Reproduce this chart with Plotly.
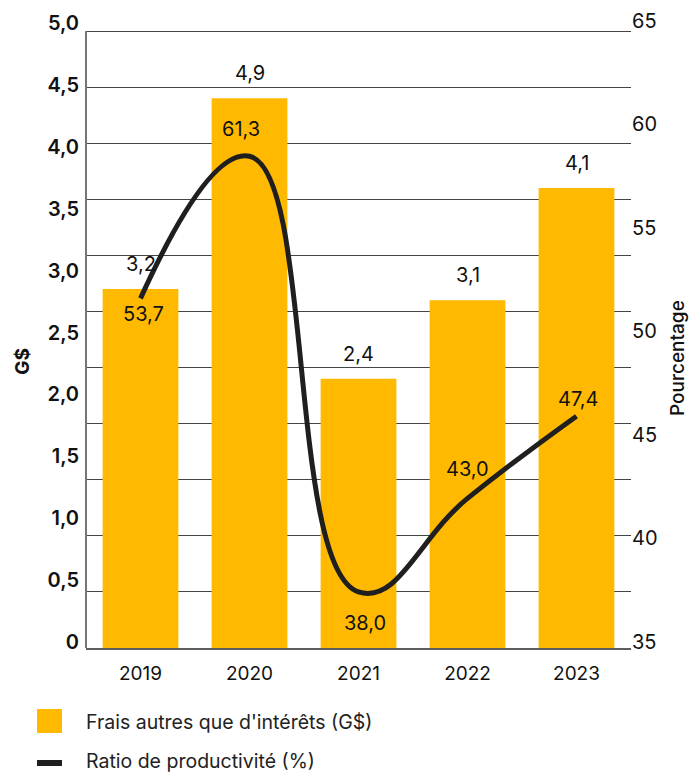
import plotly.graph_objects as go

# ---------------- data ----------------
years = ["2019", "2020", "2021", "2022", "2023"]
expenses = [3.2, 4.9, 2.4, 3.1, 4.1]          # G$
ratio = [53.7, 61.3, 38.0, 43.0, 47.4]        # %

left_tick_vals = [0, 0.5, 1.0, 1.5, 2.0, 2.5, 3.0, 3.5, 4.0, 4.5, 5.0]
left_tick_text = ["0", "0,5", "1,0", "1,5", "2,0", "2,5", "3,0", "3,5", "4,0", "4,5", "5,0"]
right_tick_vals = [35, 40, 45, 50, 55, 60, 65]
right_tick_text = ["35", "40", "45", "50", "55", "60", "65"]

bar_name = "Frais autres que d'intérêts (G$)"
line_name = "Ratio de productivité (%)"
left_title = "G$"
right_title = "Pourcentage"

# ---------------- styling / geometry (pixels) ----------------
W, H = 689, 772
ML, MR, MT, MB = 86, 58, 18, 124
PW = W - ML - MR
PH = H - MT - MB
Y_BOTTOM = H - MB          # pixel row of the zero line
GRID_TOP = 31              # pixel row of the top grid line
YELLOW = "#FFB900"
LINE = "#1f1f1f"
FONT = "Inter"
TXT = "#111111"


def px(p):
    return (p - ML) / PW


def py(p):
    return (Y_BOTTOM - p) / PH


def axis_range(v_lo, p_lo, v_hi, p_hi):
    """range of an axis spanning the full plot height, given two value->pixel anchors"""
    k = (p_lo - p_hi) / (v_hi - v_lo)
    return [v_lo - (Y_BOTTOM - p_lo) / k, v_hi + (p_hi - MT) / k]


def fr(v):
    return f"{v:.1f}".replace(".", ",")


bar_range = axis_range(0, Y_BOTTOM, 5.5, GRID_TOP)
line_range = axis_range(35, Y_BOTTOM, 68, GRID_TOP)
left_lab_range = axis_range(0, 641.7, 5, 23.3)
right_lab_range = axis_range(35, 642, 65, 20.8)

fig = go.Figure()
fig.add_trace(go.Bar(x=years, y=expenses, name=bar_name, marker=dict(color=YELLOW, line=dict(width=0)),
                     yaxis="y", showlegend=False, hoverinfo="skip"))
fig.add_trace(go.Scatter(x=years, y=ratio, name=line_name, mode="lines",
                         line=dict(color=LINE, width=5, shape="spline", smoothing=1.3),
                         yaxis="y2", showlegend=False, hoverinfo="skip"))
# empty carriers so that the tick-label axes get drawn
fig.add_trace(go.Scatter(x=years, y=[None] * len(years), yaxis="y3", mode="lines",
                         showlegend=False, hoverinfo="skip"))
fig.add_trace(go.Scatter(x=years, y=[None] * len(years), yaxis="y4", mode="lines",
                         showlegend=False, hoverinfo="skip"))

annotations = []
for i, v in enumerate(expenses):
    annotations.append(dict(x=i, y=v, xref="x", yref="y", text=fr(v), showarrow=False,
                            xanchor="center", yanchor="middle", yshift=25,
                            font=dict(family=FONT, size=20, color=TXT)))
line_shifts = [(3, -16), (-9, 27), (6, -31), (0, 29), (1, 17)]
for i, (v, (dx, dy)) in enumerate(zip(ratio, line_shifts)):
    annotations.append(dict(x=i, y=v, xref="x", yref="y2", text=fr(v), showarrow=False,
                            xanchor="center", yanchor="middle", xshift=dx, yshift=dy,
                            font=dict(family=FONT, size=20, color=TXT)))
annotations.append(dict(x=px(23), y=py(361.7), xref="paper", yref="paper", text=left_title, showarrow=False,
                        xanchor="center", yanchor="middle", textangle=-90,
                        font=dict(family=FONT, size=19, color=TXT, weight=700)))
annotations.append(dict(x=px(677), y=py(358), xref="paper", yref="paper", text=right_title, showarrow=False,
                        xanchor="center", yanchor="middle", textangle=-90,
                        font=dict(family=FONT, size=19, color=TXT, weight=500)))
annotations.append(dict(x=px(84), y=py(721.7), xref="paper", yref="paper", text=bar_name, showarrow=False,
                        xanchor="left", yanchor="middle", font=dict(family=FONT, size=19.5, color="#222")))
annotations.append(dict(x=px(84), y=py(761), xref="paper", yref="paper", text=line_name, showarrow=False,
                        xanchor="left", yanchor="middle", font=dict(family=FONT, size=19.5, color="#222")))

shapes = [
    dict(type="line", xref="paper", yref="paper", x0=0, x1=0, y0=0, y1=py(GRID_TOP),
         line=dict(color="#777777", width=2)),
    dict(type="rect", xref="paper", yref="paper", x0=px(37), x1=px(62), y0=py(733), y1=py(709),
         fillcolor=YELLOW, line=dict(width=0)),
    dict(type="rect", xref="paper", yref="paper", x0=px(37), x1=px(62), y0=py(766), y1=py(760),
         fillcolor=LINE, line=dict(width=0)),
]

fig.update_layout(
    template="none",
    width=W, height=H, autosize=False,
    margin=dict(l=ML, r=MR, t=MT, b=MB, pad=0),
    paper_bgcolor="white", plot_bgcolor="white",
    bargap=0.305,
    showlegend=False,
    font=dict(family=FONT, color=TXT),
    xaxis=dict(domain=[0, 1], type="category", categoryorder="array", categoryarray=years,
               range=[-0.5, len(years) - 0.5], autorange=False,
               showline=True, linecolor="rgba(40,40,40,0.75)", linewidth=2, ticks="",
               ticklabelstandoff=7,
               showgrid=False, zeroline=False, anchor="y", automargin=False,
               tickfont=dict(family=FONT, size=19, color=TXT)),
    yaxis=dict(domain=[0, 1], range=bar_range, tick0=0, dtick=0.5, showgrid=True,
               gridcolor="#444444", gridwidth=1, showticklabels=False, ticks="", zeroline=False,
               showline=False, automargin=False),
    yaxis2=dict(overlaying="y", side="right", range=line_range, showgrid=False, showticklabels=False,
                ticks="", zeroline=False, showline=False, automargin=False),
    yaxis3=dict(overlaying="y", side="left", range=left_lab_range,
                tickvals=left_tick_vals, ticktext=left_tick_text, showgrid=False, zeroline=False,
                showline=False, ticks="", ticklabelstandoff=6, automargin=False,
                tickfont=dict(family=FONT, size=20, color=TXT, weight=600)),
    yaxis4=dict(overlaying="y", side="right", range=right_lab_range,
                tickvals=right_tick_vals, ticktext=right_tick_text, showgrid=False, zeroline=False,
                showline=False, ticks="", ticklabelstandoff=0, automargin=False,
                tickfont=dict(family=FONT, size=20, color=TXT, weight=400)),
    annotations=annotations,
    shapes=shapes,
)

fig.write_html("out.html", config={"displayModeBar": False},
               post_script="document.body.style.margin='0px';")
